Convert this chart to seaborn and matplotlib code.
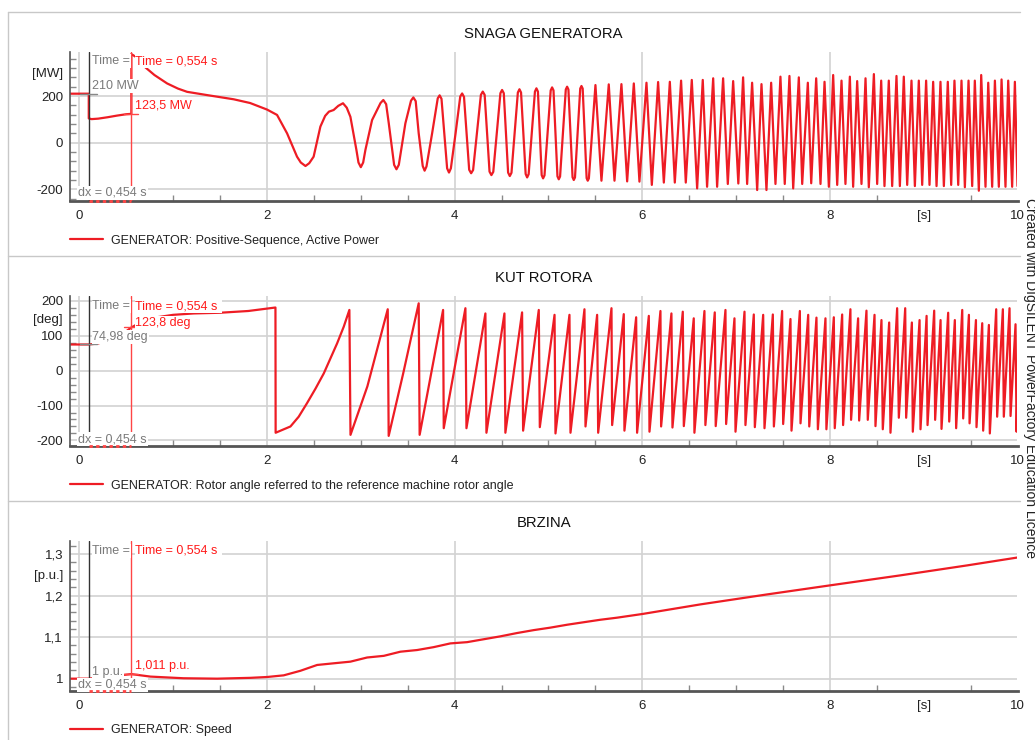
import matplotlib
matplotlib.use("Agg")
import matplotlib.pyplot as plt
from matplotlib.lines import Line2D
from matplotlib.ticker import MultipleLocator
import seaborn as sns

# ---------------- data ----------------
power_t = [-0.1, 0.1, 0.1, 0.13, 0.2, 0.3, 0.4, 0.5, 0.554, 0.554, 0.6, 0.65, 0.70, 0.8,
           0.935, 1.05, 1.148, 1.361, 1.645, 1.82, 2.0, 2.107, 2.214, 2.32, 2.36, 2.41,
           2.45, 2.497, 2.569, 2.62, 2.66, 2.71, 2.76, 2.81, 2.85, 2.889, 2.953, 2.975,
           3.0, 3.025, 3.049, 3.12, 3.21, 3.24, 3.27, 3.298, 3.355, 3.38, 3.405,
           3.475, 3.535, 3.56, 3.585, 3.617, 3.66, 3.68, 3.70, 3.76, 3.82, 3.84, 3.86,
           3.89, 3.92, 3.94, 3.96, 4.01, 4.06,
           4.080, 4.10, 4.155, 4.176, 4.197, 4.28, 4.300, 4.32, 4.372, 4.392, 4.412,
           4.488, 4.506, 4.524, 4.570, 4.588, 4.606, 4.674, 4.691, 4.708, 4.757, 4.773,
           4.789, 4.856, 4.872, 4.888, 4.928, 4.943, 4.958, 5.024, 5.039, 5.054, 5.096,
           5.110, 5.124, 5.185, 5.199, 5.213, 5.257, 5.270, 5.283, 5.339, 5.352, 5.365,
           5.407, 5.419, 5.431, 5.501, 5.565, 5.643, 5.704,
           5.778, 5.839, 5.910, 5.970, 6.045, 6.102, 6.169, 6.230, 6.294, 6.347,
           6.414, 6.464, 6.528, 6.585, 6.645, 6.691, 6.756, 6.798, 6.862, 6.912,
           6.969, 7.024, 7.075, 7.118, 7.171, 7.225, 7.271, 7.324, 7.374, 7.420,
           7.473, 7.519, 7.569, 7.609, 7.669, 7.705, 7.765, 7.801, 7.854, 7.900,
           7.943, 7.989, 8.035, 8.078, 8.124, 8.166, 8.213, 8.248, 8.291, 8.337,
           8.380, 8.415, 8.469, 8.504, 8.547, 8.582, 8.628, 8.664, 8.710, 8.746,
           8.788, 8.824, 8.870, 8.906, 8.948, 8.984, 9.026, 9.062, 9.101, 9.137,
           9.179, 9.215, 9.257, 9.293, 9.328, 9.368, 9.403, 9.439, 9.478, 9.517,
           9.545, 9.588, 9.613, 9.659, 9.688, 9.730, 9.759, 9.801, 9.830, 9.872,
           9.901, 9.943, 9.972, 10.0]
power_mw = [210, 210, 104, 101, 103, 109, 116, 122, 123.5, 380, 368, 346, 324, 290,
            254, 232, 218, 204, 186, 170, 142, 119, 40, -60, -85, -100,
            -88, -60, 69, 115, 133, 140, 158, 169, 150, 111, -31, -85,
            -105, -85, -31, 97, 170, 183, 165, 83, -95, -114, -95,
            83, 180, 194, 178, 40, -100, -120, -102, 40, 190, 203, 188,
            40, -110, -128, -110, 40, 198,
            211, 196, -116, -131, -117, 205, 219, 205, -124, -139, -125,
            212, 226, 212, -128, -143, -129, 215, 229, 215, -134, -149,
            -135, 219, 233, 219, -139, -153, -140, 224, 237, 224, -144,
            -157, -145, 228, 240, 228, -148, -160, -149, 232, 243, 232,
            -152, -163, -153, 247, -163, 250, -163,
            251, -166, 254, -167, 257, -181, 260, -171, 261, -171,
            266, -171, 269, -196, 269, -189, 276, -189, 276, -177,
            264, -175, 280, -177, 257, -203, 251, -203, 257, -177,
            283, -177, 286, -196, 280, -177, 257, -174, 276, -177,
            261, -189, 290, -181, 266, -177, 283, -189, 264, -177,
            276, -191, 294, -177, 266, -186, 266, -186, 286, -186,
            283, -181, 266, -186, 266, -181, 266, -181, 261, -186,
            261, -186, 261, -181, 266, -181, 266, -191, 266, -186,
            266, -206, 290, -189, 257, -189, 266, -189, 271, -189,
            266, -189, 261, -186]

angle_t = [-0.1, 0.1, 0.2, 0.3, 0.4, 0.5, 0.554, 0.65, 0.8, 1.0, 1.22, 1.5, 1.8, 2.09,
           2.092, 2.161, 2.25, 2.338, 2.427, 2.516, 2.605, 2.676, 2.747, 2.818, 2.878,
           2.89, 3.07, 3.287, 3.297, 3.45, 3.617, 3.627, 3.877, 3.884,
           4.115, 4.126, 4.328, 4.339, 4.531, 4.541, 4.719, 4.730, 4.897, 4.908,
           5.065, 5.075, 5.224, 5.235, 5.384, 5.395, 5.519, 5.530, 5.672, 5.679,
           5.803, 5.810, 5.935, 5.945, 6.070, 6.077, 6.194, 6.201, 6.311, 6.322,
           6.432, 6.443, 6.549, 6.556, 6.663, 6.673, 6.773, 6.783, 6.887, 6.894,
           6.983, 6.994, 7.090, 7.100, 7.189, 7.200, 7.289, 7.303, 7.392, 7.403,
           7.491, 7.502, 7.580, 7.591, 7.680, 7.687, 7.769, 7.780, 7.857, 7.872,
           7.953, 7.963, 8.042, 8.052, 8.131, 8.141, 8.219, 8.226, 8.301, 8.312,
           8.390, 8.404, 8.476, 8.486, 8.550, 8.564, 8.632, 8.646, 8.717, 8.735,
           8.803, 8.813, 8.874, 8.884, 8.956, 8.966, 9.031, 9.041, 9.112, 9.122,
           9.180, 9.190, 9.261, 9.272, 9.332, 9.346, 9.411, 9.421, 9.482, 9.489,
           9.557, 9.563, 9.624, 9.634, 9.695, 9.705, 9.773, 9.783, 9.844, 9.854,
           9.915, 9.926, 9.979, 9.990, 10.0]
angle_deg = [74.98, 74.98, 78, 86, 98, 113, 123.8, 138, 152, 160, 164, 166, 171, 181,
             -178, -170, -160, -132, -93, -52, -8, 35, 78, 126, 174,
             -184, -45, 176, -187, -10, 193, -184, 174, -165,
             179, -165, 164, -178, 164, -178, 167, -172, 174, -162,
             160, -180, 160, -178, 176, -160, 160, -178, 179, -156,
             162, -172, 153, -178, 157, -175, 171, -160, 164, -163,
             169, -159, 150, -178, 171, -156, 167, -159, 174, -153,
             150, -175, 169, -156, 161, -162, 160, -165, 161, -160,
             171, -153, 148, -172, 171, -151, 160, -160, 152, -168,
             150, -168, 153, -165, 161, -156, 176, -141, 150, -143,
             172, -141, 160, -159, 145, -168, 138, -178, 179, -135,
             179, -135, 138, -175, 145, -168, 157, -156, 172, -141,
             145, -167, 166, -146, 145, -165, 174, -137, 160, -151,
             145, -162, 136, -172, 131, -180, 176, -132, 176, -132,
             179, -130, 133, -175, -46]

speed_t = [-0.1, 0.1, 0.3, 0.554, 0.757, 1.11, 1.468, 1.823, 2.0, 2.178, 2.356, 2.534,
           2.71, 2.889, 3.067, 3.245, 3.422, 3.6, 3.777, 3.955, 4.133, 4.31, 4.488,
           4.666, 4.843, 5.021, 5.2, 5.376, 5.554, 5.732, 6.005, 6.62, 7.33, 8.006,
           8.753, 9.464, 10.0]
speed_pu = [1.0, 1.0, 1.005, 1.011, 1.005, 1.001, 1.0, 1.002, 1.004, 1.008, 1.019, 1.033,
            1.037, 1.041, 1.051, 1.055, 1.065, 1.069, 1.076, 1.085, 1.088, 1.095, 1.102,
            1.110, 1.117, 1.123, 1.130, 1.136, 1.142, 1.147, 1.156, 1.179, 1.203, 1.225,
            1.249, 1.273, 1.292]

titles = ["SNAGA GENERATORA", "KUT ROTORA", "BRZINA"]
legend_labels = ["GENERATOR: Positive-Sequence, Active Power",
                 "GENERATOR: Rotor angle referred to the reference machine rotor angle",
                 "GENERATOR: Speed"]
x_ticks = [0, 2, 4, 6, 8, 10]
x_tick_labels = ["0", "2", "4", "6", "8", "10"]
x_unit = "[s]"
power_ticks = [-200, 0, 200]
power_tick_labels = ["-200", "0", "200"]
angle_ticks = [-200, -100, 0, 100, 200]
angle_tick_labels = ["-200", "-100", "0", "100", "200"]
speed_ticks = [1.0, 1.1, 1.2, 1.3]
speed_tick_labels = ["1", "1,1", "1,2", "1,3"]
units = ["[MW]", "[deg]", "[p.u.]"]
cursor_t = [0.1, 0.554]
cursor_texts = [("210 MW", "123,5 MW"), ("74,98 deg", "123,8 deg"), ("1 p.u.", "1,011 p.u.")]
cursor_values = [(210, 123.5), (74.98, 123.8), (1.0, 1.011)]
dx_text = "dx = 0,454 s"
time_text = "Time = 0,554 s"
watermark = "Created with DIgSILENT PowerFactory Education Licence"

# ---------------- style ----------------
sns.set_theme(style="white")
plt.rcParams['font.family'] = ['Liberation Sans', 'DejaVu Sans']

RED = '#ee1c24'
CUR_RED = '#ff4545'
TXT_RED = '#ff1a1a'
GRAY_TXT = '#7a7a7a'
GRID = '#d2d2d2'
SPINE = '#555555'
FS = 9.0

W, H = 1035.0, 740.0
fig = plt.figure(figsize=(10.35, 7.40), dpi=100)


def rect(top, bottom):
    return [70 / W, 1 - bottom / H, (1017.5 - 70) / W, (bottom - top) / H]


panels = [
    dict(t=power_t, v=power_mw, rect=rect(51.7, 201), ylim=(-250, 390),
         ticks=power_ticks, labels=power_tick_labels, unit_pos=300, minor=40,
         y_time=350, y_left=243, y_right=161, y_dx=-215),
    dict(t=angle_t, v=angle_deg, rect=rect(296, 446), ylim=(-216, 214),
         ticks=angle_ticks, labels=angle_tick_labels, unit_pos=150, minor=20,
         y_time=185, y_left=96.6, y_right=137, y_dx=-196),
    dict(t=speed_t, v=speed_pu, rect=rect(540.7, 690.7), ylim=(0.971, 1.3325),
         ticks=speed_ticks, labels=speed_tick_labels, unit_pos=1.25, minor=0.02,
         y_time=1.3077, y_left=1.0161, y_right=1.0306, y_dx=0.9848),
]

bb = dict(facecolor='white', edgecolor='none', pad=0.6)

for i, p in enumerate(panels):
    ax = fig.add_axes(p['rect'])
    sns.lineplot(x=p['t'], y=p['v'], ax=ax, color=RED, lw=1.6, estimator=None,
                 sort=False, label=legend_labels[i], zorder=2)
    ax.set_xlim(-0.1, 10)
    ax.set_ylim(*p['ylim'])
    ax.set_xlabel('')
    ax.set_ylabel('')
    ax.grid(False)
    for s in ['top', 'right']:
        ax.spines[s].set_visible(False)
    ax.spines['left'].set_color(SPINE)
    ax.spines['left'].set_linewidth(1.2)
    ax.spines['bottom'].set_color(SPINE)
    ax.spines['bottom'].set_linewidth(2.0)

    # grid
    for xv in x_ticks:
        ax.axvline(xv, color=GRID, lw=1.2, zorder=0.5)
    for yv in p['ticks']:
        ax.axhline(yv, color=GRID, lw=1.2, zorder=0.5)

    # ticks (units sit in tick-label slots)
    ax.set_xticks(x_ticks + [9])
    ax.set_xticklabels(x_tick_labels + [x_unit])
    ax.set_yticks(p['ticks'] + [p['unit_pos']])
    ax.set_yticklabels(p['labels'] + [units[i]])
    ax.xaxis.set_minor_locator(MultipleLocator(0.5))
    ax.yaxis.set_minor_locator(MultipleLocator(p['minor']))
    ax.tick_params(which='major', length=0, labelsize=9.5, labelcolor='#222222')
    ax.tick_params(axis='y', which='major', pad=5.0)
    ax.tick_params(axis='x', which='major', pad=6.5)
    ax.tick_params(which='minor', direction='in', length=4, width=1, color='#8a8a8a',
                   bottom=True, left=True)

    ax.set_title(titles[i], fontsize=10.7, pad=10.0, color='#111111')

    # cursors
    ax.axvline(cursor_t[0], color='#333333', lw=1.0, zorder=3)
    ax.axvline(cursor_t[1], color=CUR_RED, lw=1.0, zorder=3)
    vl, vr = cursor_values[i]
    ax.plot([cursor_t[0] - 0.09, cursor_t[0] + 0.09], [vl, vl], color='#888888', lw=1.0, zorder=3)
    ax.plot([cursor_t[1] - 0.075, cursor_t[1] + 0.07], [vr, vr], color=CUR_RED, lw=1.0, zorder=3)
    ymin = p['ylim'][0]
    ax.plot(cursor_t, [ymin, ymin], color=CUR_RED, lw=2.0, ls=(0, (1.2, 1.2)),
            clip_on=False, zorder=6)

    ax.text(0.139, p['y_time'], "Time =", color=GRAY_TXT, fontsize=FS, va='center',
            ha='left', bbox=bb, zorder=5)
    ax.text(0.597, p['y_time'], time_text + " ", color=TXT_RED, fontsize=FS, va='center',
            ha='left', bbox=bb, zorder=5)
    ax.text(0.139, p['y_left'], cursor_texts[i][0], color=GRAY_TXT, fontsize=FS,
            va='center', ha='left', bbox=bb, zorder=4)
    ax.text(0.597, p['y_right'], cursor_texts[i][1], color=TXT_RED, fontsize=FS,
            va='center', ha='left', bbox=bb, zorder=4)
    ax.text(-0.011, p['y_dx'], dx_text, color=GRAY_TXT, fontsize=FS, va='center',
            ha='left', bbox=bb, zorder=5)

    leg = ax.legend(loc='center left', bbox_to_anchor=(0, -0.265), frameon=False,
                    fontsize=9, handlelength=2.64, handletextpad=0.64,
                    borderaxespad=0, borderpad=0)
    for txt in leg.get_texts():
        txt.set_color('#222222')

# panel frames
frame_kw = dict(transform=fig.transFigure, color='#c8c8c8', lw=1.0)
for yy in [12, 256, 501]:
    fig.add_artist(Line2D([8 / W, 1020 / W], [1 - yy / H, 1 - yy / H], **frame_kw))
fig.add_artist(Line2D([8 / W, 8 / W], [1 - 12 / H, 0], **frame_kw))

fig.text(1030 / W, 1 - 378 / H, watermark, rotation=270, fontsize=10, ha='center',
         va='center', color='#222222')

fig.savefig('out.png', dpi=100)
